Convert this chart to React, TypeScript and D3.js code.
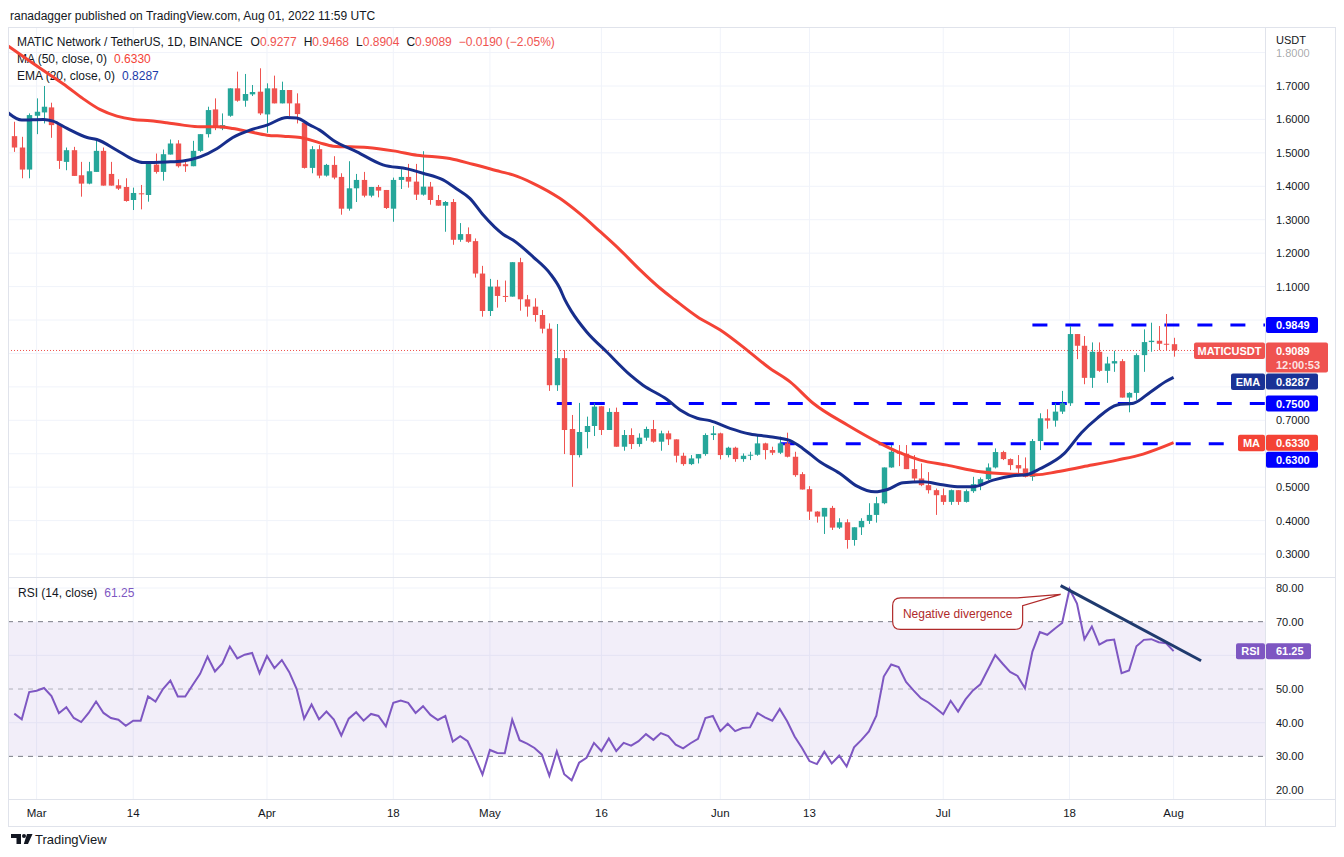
import * as d3 from 'd3'

// daily candles, first one is Feb 26 2022
const startDate = '2022-02-26'

const opens = [
  1.550, 1.516, 1.450, 1.611, 1.621, 1.636, 1.586, 1.473, 1.508, 1.433,
  1.408, 1.443, 1.506, 1.437, 1.403, 1.398, 1.359, 1.379, 1.374, 1.465,
  1.443, 1.495, 1.528, 1.466, 1.460, 1.506, 1.556, 1.630, 1.573, 1.611,
  1.693, 1.656, 1.675, 1.683, 1.615, 1.693, 1.648, 1.688, 1.648, 1.590,
  1.455, 1.511, 1.432, 1.464, 1.428, 1.333, 1.394, 1.419, 1.372, 1.398,
  1.389, 1.333, 1.419, 1.428, 1.414, 1.375, 1.399, 1.359, 1.342, 1.353,
  1.240, 1.257, 1.236, 1.139, 1.027, 1.100, 1.072, 1.070, 1.173, 1.062,
  1.040, 1.015, 0.974, 0.805, 0.886, 0.674, 0.596, 0.665, 0.683, 0.742,
  0.671, 0.725, 0.621, 0.656, 0.629, 0.648, 0.674, 0.636, 0.661, 0.643,
  0.594, 0.569, 0.586, 0.599, 0.656, 0.661, 0.596, 0.618, 0.584, 0.594,
  0.597, 0.631, 0.611, 0.603, 0.631, 0.591, 0.539, 0.494, 0.427, 0.412,
  0.438, 0.379, 0.395, 0.342, 0.380, 0.399, 0.417, 0.452, 0.559, 0.606,
  0.600, 0.554, 0.526, 0.506, 0.491, 0.476, 0.456, 0.491, 0.456, 0.488,
  0.509, 0.524, 0.559, 0.605, 0.584, 0.566, 0.556, 0.531, 0.638, 0.706,
  0.699, 0.726, 0.751, 0.958, 0.923, 0.827, 0.905, 0.848, 0.870, 0.877,
  0.768, 0.782, 0.895, 0.934, 0.938, 0.929, 0.9277
]

const highs = [
  1.593, 1.548, 1.618, 1.663, 1.700, 1.650, 1.586, 1.516, 1.518, 1.473,
  1.473, 1.543, 1.516, 1.473, 1.421, 1.424, 1.396, 1.404, 1.467, 1.498,
  1.510, 1.540, 1.538, 1.478, 1.536, 1.556, 1.638, 1.663, 1.618, 1.693,
  1.743, 1.736, 1.703, 1.753, 1.708, 1.731, 1.713, 1.688, 1.678, 1.598,
  1.520, 1.523, 1.467, 1.490, 1.439, 1.475, 1.437, 1.443, 1.398, 1.404,
  1.389, 1.426, 1.451, 1.467, 1.467, 1.505, 1.413, 1.374, 1.356, 1.362,
  1.290, 1.277, 1.244, 1.162, 1.123, 1.120, 1.118, 1.173, 1.186, 1.075,
  1.065, 1.030, 0.990, 0.988, 0.910, 0.716, 0.752, 0.711, 0.751, 0.742,
  0.736, 0.738, 0.671, 0.676, 0.661, 0.681, 0.701, 0.669, 0.669, 0.643,
  0.603, 0.596, 0.599, 0.661, 0.683, 0.663, 0.621, 0.621, 0.601, 0.606,
  0.653, 0.633, 0.621, 0.651, 0.663, 0.606, 0.545, 0.503, 0.428, 0.438,
  0.444, 0.407, 0.404, 0.380, 0.407, 0.452, 0.471, 0.559, 0.626, 0.626,
  0.626, 0.596, 0.571, 0.545, 0.496, 0.496, 0.493, 0.491, 0.493, 0.531,
  0.529, 0.571, 0.616, 0.609, 0.586, 0.596, 0.589, 0.644, 0.721, 0.733,
  0.751, 0.788, 0.982, 0.958, 0.952, 0.933, 0.933, 0.890, 0.908, 0.883,
  0.784, 0.900, 0.972, 0.992, 0.982, 1.018, 0.9468
]

const lows = [
  1.503, 1.424, 1.424, 1.556, 1.588, 1.545, 1.452, 1.448, 1.431, 1.369,
  1.406, 1.443, 1.402, 1.402, 1.389, 1.354, 1.329, 1.331, 1.354, 1.438,
  1.417, 1.495, 1.456, 1.443, 1.460, 1.503, 1.546, 1.568, 1.568, 1.608,
  1.653, 1.638, 1.670, 1.613, 1.560, 1.648, 1.648, 1.610, 1.588, 1.453,
  1.439, 1.424, 1.429, 1.421, 1.315, 1.327, 1.353, 1.367, 1.367, 1.367,
  1.332, 1.294, 1.392, 1.396, 1.359, 1.372, 1.345, 1.342, 1.264, 1.225,
  1.234, 1.231, 1.127, 1.010, 1.012, 1.037, 1.054, 1.070, 1.028, 1.010,
  0.995, 0.960, 0.788, 0.788, 0.599, 0.501, 0.589, 0.616, 0.653, 0.656,
  0.671, 0.621, 0.609, 0.614, 0.621, 0.639, 0.633, 0.609, 0.626, 0.574,
  0.564, 0.566, 0.571, 0.594, 0.641, 0.583, 0.589, 0.576, 0.576, 0.581,
  0.594, 0.583, 0.596, 0.599, 0.589, 0.531, 0.493, 0.402, 0.394, 0.360,
  0.372, 0.375, 0.316, 0.325, 0.357, 0.390, 0.394, 0.449, 0.558, 0.563,
  0.554, 0.518, 0.503, 0.481, 0.417, 0.447, 0.447, 0.447, 0.454, 0.483,
  0.491, 0.521, 0.556, 0.581, 0.551, 0.541, 0.529, 0.519, 0.611, 0.675,
  0.681, 0.719, 0.743, 0.883, 0.808, 0.797, 0.845, 0.812, 0.845, 0.768,
  0.724, 0.761, 0.845, 0.905, 0.910, 0.910, 0.8904
]

const closes = [
  1.516, 1.450, 1.613, 1.623, 1.638, 1.583, 1.476, 1.508, 1.431, 1.408,
  1.445, 1.506, 1.402, 1.402, 1.393, 1.356, 1.380, 1.376, 1.467, 1.443,
  1.496, 1.528, 1.460, 1.460, 1.506, 1.556, 1.628, 1.580, 1.583, 1.693,
  1.656, 1.676, 1.682, 1.618, 1.693, 1.648, 1.688, 1.648, 1.616, 1.455,
  1.511, 1.432, 1.464, 1.426, 1.333, 1.394, 1.419, 1.372, 1.398, 1.387,
  1.335, 1.419, 1.428, 1.414, 1.375, 1.399, 1.359, 1.342, 1.353, 1.240,
  1.257, 1.234, 1.139, 1.027, 1.100, 1.072, 1.070, 1.173, 1.062, 1.040,
  1.015, 0.974, 0.805, 0.886, 0.671, 0.596, 0.665, 0.683, 0.741, 0.671,
  0.725, 0.621, 0.656, 0.629, 0.648, 0.674, 0.636, 0.661, 0.643, 0.594,
  0.569, 0.586, 0.599, 0.656, 0.661, 0.596, 0.618, 0.584, 0.594, 0.597,
  0.631, 0.611, 0.603, 0.631, 0.591, 0.536, 0.493, 0.427, 0.412, 0.438,
  0.379, 0.395, 0.342, 0.380, 0.399, 0.417, 0.452, 0.559, 0.606, 0.600,
  0.554, 0.526, 0.506, 0.491, 0.476, 0.456, 0.491, 0.456, 0.488, 0.509,
  0.524, 0.559, 0.605, 0.584, 0.566, 0.556, 0.531, 0.638, 0.706, 0.699,
  0.726, 0.751, 0.958, 0.923, 0.827, 0.905, 0.848, 0.870, 0.877, 0.768,
  0.782, 0.895, 0.934, 0.938, 0.929, 0.9277, 0.9089
]

const rsiValues = [
  42.7, 41.0, 49.1, 49.5, 50.3, 47.9, 42.8, 44.6, 41.4, 40.2,
  42.9, 46.3, 42.9, 41.4, 40.9, 39.1, 40.6, 40.6, 47.8, 46.3,
  50.0, 52.5, 47.8, 47.8, 51.2, 54.5, 59.6, 55.2, 57.6, 62.6,
  59.1, 60.2, 60.7, 54.7, 59.8, 56.2, 58.6, 55.0, 50.0, 41.2,
  45.4, 41.0, 43.3, 40.9, 36.2, 41.2, 43.1, 40.6, 42.6, 42.0,
  38.9, 45.9, 46.6, 45.9, 42.9, 44.9, 42.3, 40.8, 42.0, 34.4,
  36.0, 34.5, 29.8, 24.6, 31.9, 31.0, 30.9, 40.9, 34.8, 33.8,
  32.5, 30.5, 24.2, 31.5, 24.7, 22.9, 28.1, 29.6, 34.0, 31.6,
  35.3, 31.6, 34.0, 33.2, 34.5, 36.6, 34.9, 36.9, 36.0, 33.5,
  32.4, 33.9, 35.2, 41.4, 42.0, 37.5, 39.7, 37.5, 38.4, 38.6,
  42.9, 41.6, 40.6, 44.1, 40.4, 35.9, 32.5, 28.6, 27.7, 31.4,
  27.9, 30.2, 27.0, 32.7, 34.9, 37.4, 42.1, 53.7, 57.3, 56.5,
  52.1, 49.6, 47.3, 46.0, 44.3, 42.5, 46.5, 43.3, 46.9, 49.6,
  51.4, 55.7, 60.1, 57.5, 55.1, 53.9, 50.2, 61.1, 66.9, 66.1,
  67.9, 69.6, 79.7, 75.4, 64.8, 68.6, 63.2, 64.4, 64.7, 54.7,
  55.5, 62.7, 64.6, 64.8, 63.9, 63.6, 61.25
]

// [days after startDate, value]
const maPoints: [number, number][] = [
  [-0.85, 1.82], [2.5, 1.768], [4.8, 1.733], [7.1, 1.698], [9.2, 1.663], [11.5, 1.63],
  [13.8, 1.61], [16, 1.6], [18.3, 1.596], [20.5, 1.59], [22.7, 1.583], [25, 1.578],
  [27.3, 1.578], [29.4, 1.573], [31.7, 1.563], [34, 1.553], [36.2, 1.55], [38.5, 1.546],
  [41.1, 1.53], [42.9, 1.52], [47.5, 1.516], [51, 1.506], [54.2, 1.493], [58.6, 1.483],
  [61.7, 1.466], [65.4, 1.444], [67.1, 1.434], [69.8, 1.409], [73.4, 1.364], [76.1, 1.318],
  [78.8, 1.265], [81.5, 1.21], [84.2, 1.15], [86.9, 1.095], [88.9, 1.06], [91.9, 1.01],
  [95, 0.97], [98.6, 0.91], [101.7, 0.855], [104.4, 0.815], [107.5, 0.751], [112.1, 0.686],
  [116.5, 0.631], [118.8, 0.606], [121.9, 0.581], [125.5, 0.566], [130, 0.546], [134.4, 0.539],
  [137.5, 0.537], [140.3, 0.546], [143.8, 0.561], [148.4, 0.581], [151.9, 0.599], [156, 0.633]
]

const emaPoints: [number, number][] = [
  [-0.85, 1.62], [1, 1.598], [3.9, 1.6], [5.2, 1.595], [7.1, 1.573], [9.8, 1.546],
  [11.1, 1.54], [13.8, 1.508], [16, 1.48], [17.3, 1.471], [20.5, 1.473], [22.7, 1.476],
  [25, 1.488], [27.3, 1.513], [29.4, 1.546], [31.7, 1.568], [34, 1.583], [36.7, 1.606],
  [38, 1.604], [39.8, 1.583], [41.1, 1.568], [42.9, 1.538], [46.1, 1.503], [49.6, 1.464],
  [52.9, 1.452], [55, 1.439], [57.7, 1.419], [59.6, 1.391], [61.3, 1.364], [63.1, 1.314],
  [65.8, 1.256], [67.1, 1.239], [69.8, 1.189], [72.1, 1.139], [73.4, 1.095], [74.1, 1.06],
  [75, 1.025], [77, 0.965], [79.7, 0.905], [82.9, 0.835], [84.6, 0.805], [87.8, 0.763],
  [89.6, 0.731], [91.9, 0.706], [93.6, 0.699], [96.3, 0.676], [99, 0.659], [101.7, 0.651],
  [104.4, 0.639], [106.1, 0.616], [108.4, 0.576], [111.1, 0.541], [113.4, 0.503], [115.8, 0.486],
  [117.5, 0.493], [119.6, 0.513], [122.3, 0.516], [124.6, 0.508], [127.3, 0.501], [129, 0.501],
  [131.7, 0.521], [134.4, 0.534], [136.3, 0.538], [138, 0.555], [141.3, 0.601], [143.6, 0.663],
  [145.7, 0.706], [148.4, 0.746], [150.6, 0.751], [152.9, 0.785], [155, 0.817], [156, 0.8287]
]

const priceTicks = [1.8, 1.7, 1.6, 1.5, 1.4, 1.3, 1.2, 1.1, 1.0, 0.9, 0.8, 0.7, 0.6, 0.5, 0.4, 0.3]
const rsiTicks = [80, 70, 60, 50, 40, 30, 20]
const timeTicks: [string, string][] = [
  ['2022-03-01', 'Mar'], ['2022-03-14', '14'], ['2022-04-01', 'Apr'], ['2022-04-18', '18'],
  ['2022-05-01', 'May'], ['2022-05-16', '16'], ['2022-06-01', 'Jun'], ['2022-06-13', '13'],
  ['2022-07-01', 'Jul'], ['2022-07-18', '18'], ['2022-08-01', 'Aug']
]

const levels = [
  { value: 0.9849, from: '2022-07-13' },
  { value: 0.75, from: '2022-05-10' },
  { value: 0.63, from: '2022-06-09' }
]

const divergenceLine: [number, number][] = [[140.8, 80.7], [159.7, 58.4]]
const divergenceAnchor: [number, number] = [140.8, 78.1]

const PLOT_L = 8
const PLOT_R = 1265
const PRICE_T = 28
const PRICE_B = 577
const RSI_T = 578
const RSI_B = 799
const FRAME_R = 1336
const FRAME_B = 826

const font = "'Liberation Sans', Arial, sans-serif"
const ink = '#131722'
const upColor = '#26a69a'
const downColor = '#ef5350'
const maColor = '#f44336'
const emaColor = '#172e8c'
const levelColor = '#0000ff'
const rsiColor = '#7e57c2'
const gridColor = '#f0f3fa'
const borderColor = '#e0e3eb'

const dayOf = (d: string) => (Date.parse(d) - Date.parse(startDate)) / 864e5
const fmt4 = d3.format('.4f')
const fmt2 = d3.format('.2f')

export default function App() {
  const x = d3.scaleLinear().domain([-0.85, 168.3]).range([PLOT_L, PLOT_R])
  const yP = d3.scaleLinear().domain([0.2313, 1.8735]).range([PRICE_B, PRICE_T])
  const yR = d3.scaleLinear().domain([17.04, 82.97]).range([800, RSI_T])

  const smooth = d3.line<[number, number]>()
    .x(d => x(d[0]))
    .y(d => yP(d[1]))
    .curve(d3.curveMonotoneX)

  const rsiLine = d3.line<number>()
    .x((_, i) => x(i))
    .y(d => yR(d))

  const last = closes.length - 1
  const lastClose = closes[last]
  const emaLast = emaPoints[emaPoints.length - 1][1]
  const maLast = maPoints[maPoints.length - 1][1]
  const rsiLast = rsiValues[rsiValues.length - 1]

  // right-axis tags, pushed down when they overlap
  type Tag = { y: number; h: number; w: number; lines: string[]; color: string; left?: string; leftW?: number }
  const tags: Tag[] = [
    { y: yP(levels[0].value), h: 16, w: 52, lines: [fmt4(levels[0].value)], color: levelColor },
    { y: yP(lastClose), h: 30, w: 62, lines: [fmt4(lastClose), '12:00:53'], color: downColor, left: 'MATICUSDT', leftW: 71 },
    { y: yP(emaLast), h: 16, w: 52, lines: [fmt4(emaLast)], color: '#1a3296', left: 'EMA', leftW: 34 },
    { y: yP(levels[1].value), h: 16, w: 52, lines: [fmt4(levels[1].value)], color: levelColor },
    { y: yP(maLast), h: 16, w: 52, lines: [fmt4(maLast)], color: maColor, left: 'MA', leftW: 27 },
    { y: yP(levels[2].value), h: 16, w: 52, lines: [fmt4(levels[2].value)], color: levelColor }
  ].sort((a, b) => a.y - b.y)
  let prevBottom = -Infinity
  const placed = tags.map(t => {
    let top = t.y - 8
    if (top < prevBottom + 1) top = prevBottom + 1
    prevBottom = top + t.h
    return { ...t, top }
  })
  // axis labels that sit under a tag are covered, as on the original
  const coveredPrice = (y: number) => placed.some(t => y + 5 > t.top && y - 5 < t.top + t.h)
  const rsiTagY = yR(rsiLast)
  const coveredRsi = (y: number) => Math.abs(y - rsiTagY) < 13

  const ax = x(divergenceAnchor[0])
  const ay = yR(divergenceAnchor[1])
  const bl = ax - 168, br = ax - 38, bt = ay + 3.4, bb = ay + 35, r = 8
  const calloutPath = `M${bl + r},${bt} H${br - 5} L${ax},${ay} L${br},${bt + 8} V${bb - r} Q${br},${bb} ${br - r},${bb} H${bl + r} Q${bl},${bb} ${bl},${bb - r} V${bt + r} Q${bl},${bt} ${bl + r},${bt} Z`

  return (
    <svg width={1344} height={857} style={{ position: 'absolute', left: 0, top: 0, background: '#fff' }} fontFamily={font}>
      <defs>
        <clipPath id="pricePane"><rect x={PLOT_L} y={PRICE_T} width={PLOT_R - PLOT_L} height={PRICE_B - PRICE_T} /></clipPath>
        <clipPath id="rsiPane"><rect x={PLOT_L} y={RSI_T} width={PLOT_R - PLOT_L} height={RSI_B - RSI_T} /></clipPath>
      </defs>

      <text x={10} y={20} fontSize={12} fill={ink}>ranadagger published on TradingView.com, Aug 01, 2022 11:59 UTC</text>

      {/* grid */}
      {timeTicks.map(([d]) => (
        <g key={'vg' + d}>
          <line x1={x(dayOf(d))} x2={x(dayOf(d))} y1={PRICE_T} y2={PRICE_B} stroke={gridColor} />
          <line x1={x(dayOf(d))} x2={x(dayOf(d))} y1={RSI_T} y2={RSI_B} stroke={gridColor} />
        </g>
      ))}
      {priceTicks.map(p => (
        <line key={'hg' + p} x1={PLOT_L} x2={PLOT_R} y1={yP(p)} y2={yP(p)} stroke={gridColor} />
      ))}
      {[80, 60, 40].map(v => (
        <line key={'rg' + v} x1={PLOT_L} x2={PLOT_R} y1={yR(v)} y2={yR(v)} stroke={gridColor} />
      ))}

      {/* legends */}
      <text x={17} y={46} fontSize={12} fill={ink}>
        MATIC Network / TetherUS, 1D, BINANCE
        <tspan dx={8}>O</tspan><tspan fill={downColor}>{fmt4(opens[last])}</tspan>
        <tspan dx={7}>H</tspan><tspan fill={downColor}>{fmt4(highs[last])}</tspan>
        <tspan dx={7}>L</tspan><tspan fill={downColor}>{fmt4(lows[last])}</tspan>
        <tspan dx={7}>C</tspan><tspan fill={downColor}>{fmt4(lastClose)}</tspan>
        <tspan dx={7} fill={downColor}>−0.0190 (−2.05%)</tspan>
      </text>
      <text x={17} y={63} fontSize={12} fill={ink}>
        MA (50, close, 0)<tspan dx={7} fill={maColor}>{fmt4(maLast)}</tspan>
      </text>
      <text x={17} y={80} fontSize={12} fill={ink}>
        EMA (20, close, 0)<tspan dx={7} fill="#1c3aa9">{fmt4(emaLast)}</tspan>
      </text>

      {/* price pane */}
      <g clipPath="url(#pricePane)">
        {levels.map(l => (
          <line key={'lv' + l.value} x1={x(dayOf(l.from))} x2={PLOT_R} y1={yP(l.value)} y2={yP(l.value)}
            stroke={levelColor} strokeWidth={3} strokeDasharray="15 18" />
        ))}
        <line x1={PLOT_L} x2={PLOT_R} y1={yP(lastClose)} y2={yP(lastClose)} stroke={downColor} strokeDasharray="1 2" />
        {closes.map((c, i) => {
          const o = opens[i]
          const col = c >= o ? upColor : downColor
          const cx = Math.round(x(i)) + 0.5
          const top = yP(Math.max(o, c))
          const h = Math.max(1, Math.abs(yP(o) - yP(c)))
          return (
            <g key={'c' + i}>
              <line x1={cx} x2={cx} y1={yP(highs[i])} y2={yP(lows[i])} stroke={col} />
              <rect x={cx - 2.7} y={top} width={5.4} height={h} fill={col} />
            </g>
          )
        })}
        <path d={smooth(maPoints) ?? ''} fill="none" stroke={maColor} strokeWidth={3} />
        <path d={smooth(emaPoints) ?? ''} fill="none" stroke={emaColor} strokeWidth={3} />
      </g>

      {/* rsi pane */}
      <text x={18} y={597} fontSize={12} fill={ink}>
        RSI (14, close)<tspan dx={7} fill={rsiColor}>{fmt2(rsiLast)}</tspan>
      </text>
      <g clipPath="url(#rsiPane)">
        <rect x={PLOT_L} y={yR(70)} width={PLOT_R - PLOT_L} height={yR(30) - yR(70)} fill={rsiColor} fillOpacity={0.1} />
        {[70, 30].map(v => (
          <line key={'rd' + v} x1={PLOT_L} x2={PLOT_R} y1={yR(v)} y2={yR(v)} stroke="#787b86" strokeDasharray="5 5" />
        ))}
        <line x1={PLOT_L} x2={PLOT_R} y1={yR(50)} y2={yR(50)} stroke="#787b86" strokeOpacity={0.55} strokeDasharray="5 5" />
        <path d={rsiLine(rsiValues) ?? ''} fill="none" stroke={rsiColor} strokeWidth={2} />
        <line x1={x(divergenceLine[0][0])} y1={yR(divergenceLine[0][1])} x2={x(divergenceLine[1][0])} y2={yR(divergenceLine[1][1])}
          stroke="#1f3a6e" strokeWidth={3} />
        <path d={calloutPath} fill="#fff" stroke="#b02a2a" strokeWidth={1.2} />
        <text x={(bl + br) / 2} y={bt + 20} fontSize={12} fill="#b02a2a" textAnchor="middle">Negative divergence</text>
      </g>

      {/* frame */}
      <line x1={PLOT_L} x2={FRAME_R} y1={27.5} y2={27.5} stroke={borderColor} />
      <line x1={PLOT_L} x2={FRAME_R} y1={577.5} y2={577.5} stroke={borderColor} />
      <line x1={PLOT_L} x2={FRAME_R} y1={RSI_B + 0.5} y2={RSI_B + 0.5} stroke={borderColor} />
      <line x1={PLOT_L} x2={FRAME_R} y1={FRAME_B + 0.5} y2={FRAME_B + 0.5} stroke={borderColor} />
      <line x1={PLOT_L + 0.5} x2={PLOT_L + 0.5} y1={27.5} y2={FRAME_B} stroke={borderColor} />
      <line x1={FRAME_R - 0.5} x2={FRAME_R - 0.5} y1={27.5} y2={FRAME_B} stroke={borderColor} />
      <line x1={PLOT_R + 0.5} x2={PLOT_R + 0.5} y1={27.5} y2={FRAME_B} stroke={borderColor} />

      {/* price axis */}
      <text x={1276} y={44} fontSize={11} fill={ink}>USDT</text>
      {priceTicks.filter(p => !coveredPrice(yP(p))).map(p => (
        <text key={'pt' + p} x={1276} y={yP(p) + 4} fontSize={11} fill={ink} fillOpacity={p > 1.75 ? 0.4 : 1}>{fmt4(p)}</text>
      ))}
      {placed.map(t => (
        <g key={'tag' + t.lines[0]}>
          {t.left && (
            <g>
              <rect x={PLOT_R - (t.leftW ?? 0)} y={t.top} width={t.leftW} height={16.5} rx={2} fill={t.color} />
              <text x={PLOT_R - (t.leftW ?? 0) / 2} y={t.top + 12.3} fontSize={11} fontWeight="bold" fill="#fff" textAnchor="middle">{t.left}</text>
            </g>
          )}
          <rect x={PLOT_R + 1} y={t.top} width={t.w} height={t.h} rx={2} fill={t.color} />
          {t.lines.map((s, k) => (
            <text key={s} x={1276} y={t.top + 12.3 + k * 14.5} fontSize={11} fontWeight="bold" fill="#fff" fillOpacity={k ? 0.85 : 1}>{s}</text>
          ))}
        </g>
      ))}

      {/* rsi axis */}
      {rsiTicks.filter(v => !coveredRsi(yR(v))).map(v => (
        <text key={'rt' + v} x={1276} y={yR(v) + 4} fontSize={11} fill={ink}>{fmt2(v)}</text>
      ))}
      <rect x={PLOT_R - 29} y={rsiTagY - 8} width={29} height={16} rx={2} fill={rsiColor} />
      <text x={PLOT_R - 14.5} y={rsiTagY + 4.3} fontSize={11} fontWeight="bold" fill="#fff" textAnchor="middle">RSI</text>
      <rect x={PLOT_R + 1} y={rsiTagY - 8} width={45} height={16} rx={2} fill={rsiColor} />
      <text x={1276} y={rsiTagY + 4.3} fontSize={11} fontWeight="bold" fill="#fff">{fmt2(rsiLast)}</text>

      {/* time axis */}
      {timeTicks.map(([d, label]) => (
        <text key={'tt' + d} x={x(dayOf(d))} y={817} fontSize={11.5} fill={ink} textAnchor="middle">{label}</text>
      ))}

      {/* logo */}
      <g fill={ink}>
        <path d="M11 834h10v10h-4.5v-6H11z" />
        <circle cx={24} cy={836} r={2} />
        <path d="M27 834h5.5l-4.5 10h-4.2z" />
        <text x={35} y={844} fontSize={13}>TradingView</text>
      </g>
    </svg>
  )
}
